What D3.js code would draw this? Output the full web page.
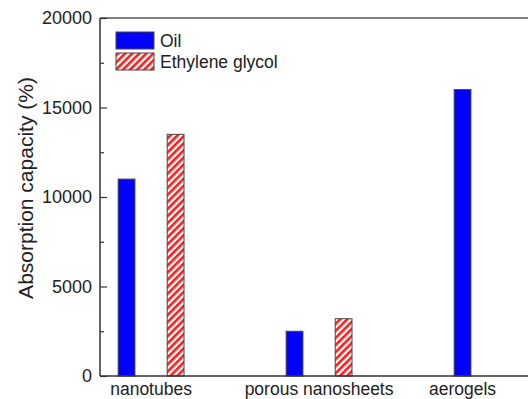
<!DOCTYPE html>
<html><head><meta charset="utf-8">
<script src="https://cdn.jsdelivr.net/npm/d3@7"></script>
<style>body{margin:0;background:#fff}svg{display:block}text{font-family:"Liberation Sans",Arial,sans-serif;fill:#222}</style>
</head><body><svg id="c" width="528" height="399"></svg>
<script>
const categories = ["nanotubes", "porous nanosheets", "aerogels"];
const oilValues = [11000, 2500, 16000];
const egValues = [13500, 3200, null];
const seriesNames = ["Oil", "Ethylene glycol"];
const yMajorTicks = [0, 5000, 10000, 15000, 20000];
const yMinorTicks = [2500, 7500, 12500, 17500];

const svg = d3.select("#c");
const L = 100, T = 18, B = 376;
const x = d3.scaleLinear().domain([-0.304, 2.5]).range([L, L + 2.804 * 168]);
const y = d3.scaleLinear().domain([0, 20000]).range([B, T]);
const off = 0.146, bw = 0.1;

const defs = svg.append("defs");
const pat = defs.append("pattern").attr("id", "hatch").attr("patternUnits", "userSpaceOnUse")
  .attr("width", 5).attr("height", 5).attr("patternTransform", "rotate(45)");
pat.append("rect").attr("width", 5).attr("height", 5).attr("fill", "#fff");
pat.append("rect").attr("width", 2.6).attr("height", 5).attr("fill", "#ff1a1a");

// bars
const g = svg.append("g");
const data = [];
categories.forEach((c, i) => {
  if (oilValues[i] != null) data.push({i, v: oilValues[i], s: 0});
  if (egValues[i] != null) data.push({i, v: egValues[i], s: 1});
});
g.selectAll("rect.bar").data(data).join("rect").attr("class", "bar")
  .attr("x", d => x(d.i + (d.s ? off : -off) - bw / 2))
  .attr("width", d => x(bw) - x(0))
  .attr("y", d => y(d.v)).attr("height", d => y(0) - y(d.v))
  .attr("fill", d => d.s ? "url(#hatch)" : "#0000ff")
  .attr("stroke", "#444").attr("stroke-width", 1);

// axes frame
const axisColor = "#333";
svg.append("line").attr("x1", L).attr("x2", L).attr("y1", T).attr("y2", B).attr("stroke", axisColor).attr("stroke-width", 1.5);
svg.append("line").attr("x1", L).attr("x2", 528).attr("y1", B).attr("y2", B).attr("stroke", axisColor).attr("stroke-width", 1.5);
svg.append("line").attr("x1", L).attr("x2", 528).attr("y1", T).attr("y2", T).attr("stroke", "#555").attr("stroke-width", 1.5);

const yAxis = d3.axisLeft(y).tickValues(yMajorTicks).tickSizeInner(-7).tickSizeOuter(0).tickPadding(8).tickFormat(d3.format("d"));
const ya = svg.append("g").attr("transform", `translate(${L},0)`).call(yAxis);
ya.select(".domain").remove();
ya.selectAll(".tick line").attr("stroke", axisColor).attr("stroke-width", 1.2);
ya.selectAll(".tick text").attr("font-size", 18).attr("fill", "#222").attr("x", -8)
  .attr("font-family", '"Liberation Sans",Arial,sans-serif');
const ym = d3.axisLeft(y).tickValues(yMinorTicks).tickSize(-4).tickFormat("");
const yma = svg.append("g").attr("transform", `translate(${L},0)`).call(ym);
yma.select(".domain").remove();
yma.selectAll(".tick line").attr("stroke", axisColor).attr("stroke-width", 1.2);

// x labels centered on present bars
categories.forEach((c, i) => {
  const present = [];
  if (oilValues[i] != null) present.push(i - off);
  if (egValues[i] != null) present.push(i + off);
  const cx = x(d3.mean(present));
  svg.append("text").attr("x", cx).attr("y", 395).attr("text-anchor", "middle").attr("font-size", 17.5).text(c);
});

// y title
svg.append("text").attr("transform", `translate(33,188) rotate(-90)`)
  .attr("text-anchor", "middle").attr("font-size", 21).text("Absorption capacity (%)");

// legend
const lg = svg.append("g");
seriesNames.forEach((n, k) => {
  lg.append("rect").attr("x", 116).attr("y", 32 + k * 21).attr("width", 38).attr("height", 17)
    .attr("fill", k ? "url(#hatch)" : "#0000ff").attr("stroke", "#444").attr("stroke-width", 1);
  lg.append("text").attr("x", 160).attr("y", 47 + k * 21).attr("font-size", 17.5).text(n);
});
</script></body></html>
